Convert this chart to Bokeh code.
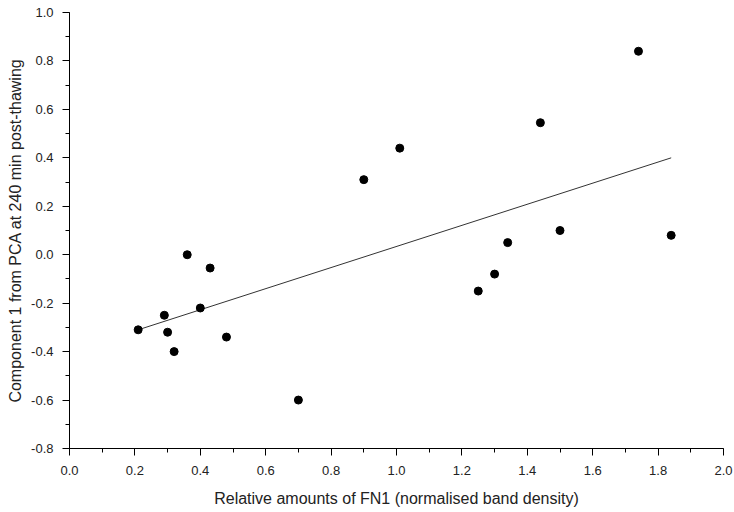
from bokeh.plotting import figure
from bokeh.models import Range1d, SingleIntervalTicker, PrintfTickFormatter
from bokeh.embed import file_html
from bokeh.resources import INLINE

# data
fn1 = [0.21, 0.29, 0.30, 0.32, 0.36, 0.40, 0.43, 0.48, 0.70, 0.90, 1.01,
       1.25, 1.30, 1.34, 1.44, 1.50, 1.74, 1.84]
comp1 = [-0.31, -0.25, -0.32, -0.40, 0.00, -0.22, -0.055, -0.34, -0.60, 0.31, 0.44,
         -0.15, -0.08, 0.05, 0.545, 0.10, 0.84, 0.08]
fit_x = [0.21, 1.84]
fit_y = [-0.31, 0.40]

FONT = "Liberation Sans"

p = figure(width=734, height=512,
           min_border_left=69, min_border_right=11, min_border_top=12, min_border_bottom=64,
           x_range=Range1d(0, 2.0), y_range=Range1d(-0.8, 1.0),
           output_backend="svg", toolbar_location=None)

p.outline_line_color = None
p.xgrid.visible = False
p.ygrid.visible = False
p.background_fill_color = "white"
p.border_fill_color = "white"

p.line(fit_x, fit_y, line_color="#333333", line_width=1)
p.scatter(fn1, comp1, size=8, marker="circle", fill_color="black", line_color="black")

for ax in (p.xaxis[0], p.yaxis[0]):
    ax.ticker = SingleIntervalTicker(interval=0.2, num_minor_ticks=2)
    ax.formatter = PrintfTickFormatter(format="%.1f")
    ax.axis_line_color = "black"
    ax.axis_line_width = 1
    ax.major_tick_in = 0
    ax.major_tick_out = 7
    ax.minor_tick_in = 0
    ax.minor_tick_out = 4
    ax.major_tick_line_color = "black"
    ax.minor_tick_line_color = "black"
    ax.major_label_text_font = FONT
    ax.major_label_text_font_size = "13px"
    ax.major_label_text_color = "#222222"
    ax.axis_label_text_font = FONT
    ax.axis_label_text_font_size = "16px"
    ax.axis_label_text_font_style = "normal"
    ax.axis_label_text_color = "#222222"

p.xaxis.axis_label = "Relative amounts of FN1 (normalised band density)"
p.yaxis.axis_label = "Component 1 from PCA at 240 min post-thawing"
p.xaxis.major_label_standoff = 10
p.yaxis.major_label_standoff = 9
p.xaxis.axis_label_standoff = 12
p.yaxis.axis_label_standoff = 4

open("out.html", "w").write(file_html(p, INLINE))
